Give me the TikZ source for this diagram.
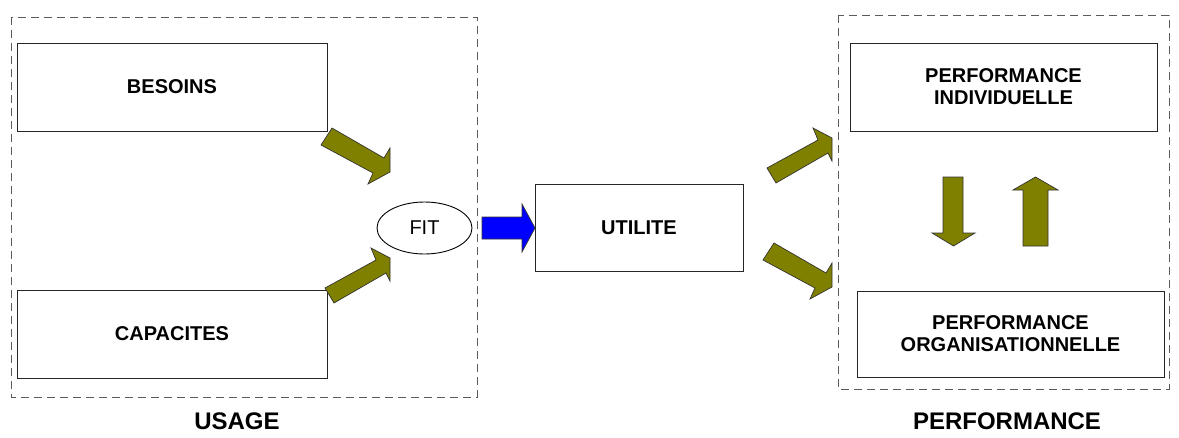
\documentclass[tikz,border=0pt]{standalone}
\usepackage{fontspec}
\setmainfont{Liberation Sans}
\usetikzlibrary{shapes.geometric}
\definecolor{olivefill}{HTML}{808000}
\definecolor{framegray}{HTML}{5A5A5A}
\tikzset{
  box/.style={draw=black!85, line width=1pt, rectangle, inner sep=0pt,
    font=\fontsize{20}{22}\selectfont\bfseries, align=center},
  group/.style={draw=framegray, line width=0.9pt, dash pattern=on 8pt off 5pt},
  blockarrow/.style={fill=olivefill, draw=black!80, line width=0.7pt, line join=miter},
  bluearrow/.style={fill=blue, draw=black!80, line width=0.7pt},
  caption/.style={font=\fontsize{24}{26}\selectfont\bfseries}
}
\begin{document}
\begin{tikzpicture}[x=1pt,y=-1pt]
\useasboundingbox (0,0) rectangle (1179,437);

% group frames
\draw[group] (11,17) rectangle (477,397);
\draw[group] (838,15) rectangle (1169,389);

% boxes
\node[box, minimum width=310pt, minimum height=88pt] (besoins) at (172,87) {BESOINS};
\node[box, minimum width=310pt, minimum height=88pt] (capacites) at (172,334) {CAPACITES};
\node[draw=black, line width=0.9pt, ellipse, inner sep=0pt, minimum width=95pt, minimum height=52pt,
      font=\fontsize{20}{22}\selectfont] (fit) at (424.5,228) {FIT};
\node[box, minimum width=208pt, minimum height=87pt] (utilite) at (639,227.5) {UTILITE};
\node[box, minimum width=307pt, minimum height=88pt] (perfind) at (1003.5,87) {PERFORMANCE\\INDIVIDUELLE};
\node[box, minimum width=307pt, minimum height=86pt] (perforg) at (1010.5,334) {PERFORMANCE\\ORGANISATIONNELLE};

% captions
\node[caption] (usage) at (237,421) {USAGE};
\node[caption] (perf) at (1007,421) {PERFORMANCE};

% block arrows towards FIT
\draw[blockarrow] (332,128) -- (384,158) -- (390,148) -- (390,172) -- (368,184) -- (373,173) -- (321,145) -- cycle;
\draw[blockarrow] (325,288) -- (376,260) -- (371,248) -- (390,258) -- (390,281) -- (386,273) -- (334,303) -- cycle;

% FIT to UTILITE
\draw[bluearrow] (482,217) -- (522,217) -- (522,204) -- (535,228) -- (522,252) -- (522,239) -- (482,239) -- cycle;

% UTILITE to the two performances
\draw[blockarrow] (767,168) -- (818,140) -- (813,128) -- (832,138) -- (832,161) -- (828,153) -- (776,183) -- cycle;
\draw[blockarrow] (774,243) -- (826,273) -- (832,263) -- (832,287) -- (810,299) -- (815,288) -- (763,260) -- cycle;

% exchange between the two performances
\draw[blockarrow] (943,177) -- (963,177) -- (963,233) -- (975,233) -- (953.5,246) -- (932,233) -- (943,233) -- cycle;
\draw[blockarrow] (1023,246) -- (1048,246) -- (1048,190) -- (1058,190) -- (1035.5,177) -- (1013,190) -- (1023,190) -- cycle;
\end{tikzpicture}
\end{document}
